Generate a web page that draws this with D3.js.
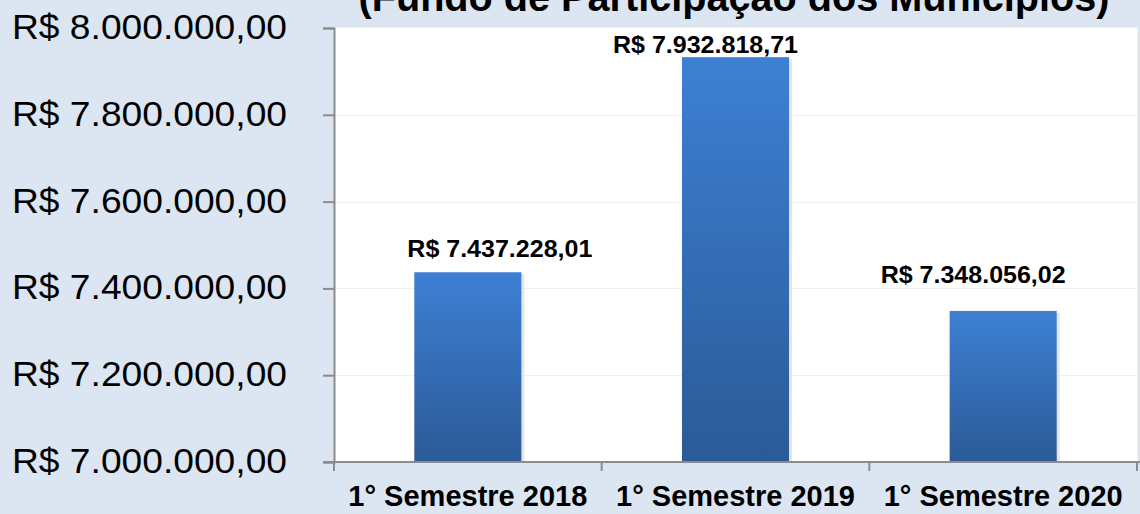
<!DOCTYPE html>
<html>
<head>
<meta charset="utf-8">
<script src="https://cdn.jsdelivr.net/npm/d3@7"></script>
<style>
  html, body { margin: 0; padding: 0; background: #dce6f2; }
  svg { display: block; }
</style>
</head>
<body>
<div id="chart"></div>
<script>
// Chart data
const categories = ["1° Semestre 2018", "1° Semestre 2019", "1° Semestre 2020"];
const values = [7437228.01, 7932818.71, 7348056.02];
const yTicks = [7000000, 7200000, 7400000, 7600000, 7800000, 8000000];
const title = "(Fundo de Participação dos Municípios)";

const width = 1140;
const height = 514;
const margin = { top: 28, right: 3, bottom: 52, left: 334 };

// Brazilian currency format
const br = d3.formatLocale({
    decimal: ",",
    thousands: ".",
    grouping: [3],
    currency: ["R$ ", ""]
});
const fmt = br.format("$,.2f");

const svg = d3.select("#chart")
    .append("svg")
    .attr("width", width)
    .attr("height", height)
    .style("font-family", "'Liberation Sans', Arial, sans-serif");

// Gradient for the bars (lighter on top, darker at the base)
const defs = svg.append("defs");
const grad = defs.append("linearGradient")
    .attr("id", "barGrad")
    .attr("x1", 0).attr("y1", 0).attr("x2", 0).attr("y2", 1);
grad.append("stop").attr("offset", "0%").attr("stop-color", "#3d80d4");
grad.append("stop").attr("offset", "100%").attr("stop-color", "#2b5a97");

const x = d3.scaleBand()
    .domain(categories)
    .range([margin.left, width - margin.right])
    .paddingInner(0.6)
    .paddingOuter(0.3);

const y = d3.scaleLinear()
    .domain([7000000, 8000000])
    .range([height - margin.bottom, margin.top]);

// Plot area
svg.append("rect")
    .attr("x", margin.left)
    .attr("y", y(8000000) - 1)
    .attr("width", width - margin.right - margin.left + 1)
    .attr("height", y(7000000) - y(8000000) + 1)
    .attr("fill", "#ffffff")
    .attr("stroke", "#e2e2e2")
    .attr("stroke-width", 1);

// Gridlines (very faint)
svg.append("g")
    .selectAll("line")
    .data(yTicks.slice(1, -1))
    .enter()
    .append("line")
    .attr("x1", margin.left)
    .attr("x2", width - margin.right)
    .attr("y1", d => Math.round(y(d)) + 0.5)
    .attr("y2", d => Math.round(y(d)) + 0.5)
    .attr("stroke", "#efefef")
    .attr("stroke-width", 1);

// Bars (with a faint shadow on the right)
svg.append("g")
    .selectAll("rect")
    .data(values)
    .enter()
    .append("rect")
    .attr("x", (d, i) => x(categories[i]) + 3)
    .attr("y", d => y(d) + 2)
    .attr("width", x.bandwidth())
    .attr("height", d => y(7000000) - y(d) - 2)
    .attr("fill", "#d4d4d4")
    .attr("opacity", 0.6);

svg.append("g")
    .selectAll("rect")
    .data(values)
    .enter()
    .append("rect")
    .attr("x", (d, i) => x(categories[i]))
    .attr("y", d => y(d))
    .attr("width", x.bandwidth())
    .attr("height", d => y(7000000) - y(d))
    .attr("fill", "url(#barGrad)");

// Y axis
const yAxis = svg.append("g")
    .attr("transform", `translate(${margin.left},0)`)
    .call(d3.axisLeft(y).tickValues(yTicks).tickSize(11).tickPadding(0).tickFormat(fmt));

yAxis.select(".domain").attr("stroke", "#8c8c8c").attr("stroke-width", 2);
yAxis.selectAll(".tick line").attr("stroke", "#8c8c8c").attr("stroke-width", 2);
yAxis.selectAll(".tick text")
    .attr("x", -47)
    .attr("dy", "0.3em")
    .attr("fill", "#000")
    .style("font-size", "35px")
    .attr("textLength", 275)
    .attr("lengthAdjust", "spacingAndGlyphs");

// X axis
const xAxis = svg.append("g")
    .attr("transform", `translate(0,${height - margin.bottom})`);

xAxis.append("line")
    .attr("x1", margin.left - 11)
    .attr("x2", width)
    .attr("stroke", "#8c8c8c")
    .attr("stroke-width", 2);

const boundaries = categories.map(c => x(c) - x.step() * x.paddingOuter())
    .concat([width - margin.right]);

xAxis.selectAll(".sep")
    .data(boundaries)
    .enter()
    .append("line")
    .attr("class", "sep")
    .attr("x1", d => d)
    .attr("x2", d => d)
    .attr("y1", 0)
    .attr("y2", 9)
    .attr("stroke", "#8c8c8c")
    .attr("stroke-width", 2);

xAxis.selectAll(".cat")
    .data(categories)
    .enter()
    .append("text")
    .attr("class", "cat")
    .attr("x", d => x(d) + x.bandwidth() / 2)
    .attr("y", 44)
    .attr("text-anchor", "middle")
    .attr("font-weight", "bold")
    .attr("font-size", 30)
    .attr("textLength", 239)
    .attr("lengthAdjust", "spacingAndGlyphs")
    .text(d => d);

// Value labels (placed by hand in the original)
const labelNudge = [[32, -15], [-30, -4], [-30, -28]];
svg.append("g")
    .selectAll("text")
    .data(values)
    .enter()
    .append("text")
    .attr("x", (d, i) => x(categories[i]) + x.bandwidth() / 2 + labelNudge[i][0])
    .attr("y", (d, i) => y(d) + labelNudge[i][1])
    .attr("text-anchor", "middle")
    .attr("font-weight", "bold")
    .attr("font-size", 23)
    .attr("textLength", 185)
    .attr("lengthAdjust", "spacingAndGlyphs")
    .text(d => fmt(d));

// Title (cut off at the top in the original)
svg.append("text")
    .attr("x", 734)
    .attr("y", 11)
    .attr("text-anchor", "middle")
    .attr("font-weight", "bold")
    .attr("font-size", 40)
    .attr("textLength", 751)
    .attr("lengthAdjust", "spacingAndGlyphs")
    .text(title);
</script>
</body>
</html>
